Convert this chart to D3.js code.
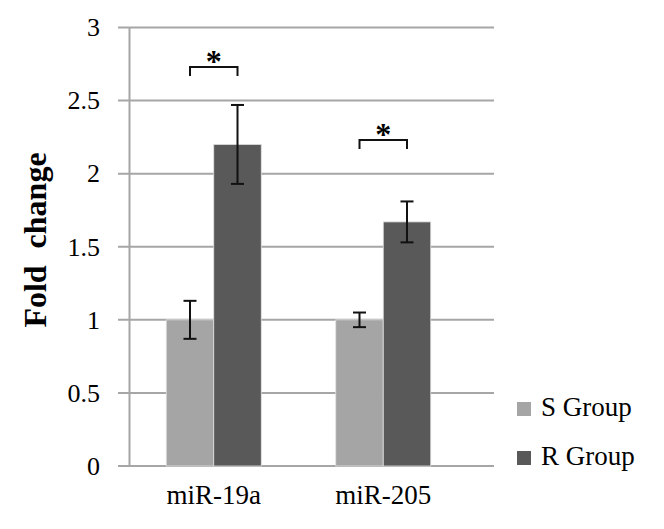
<!DOCTYPE html>
<html>
<head>
<meta charset="utf-8">
<script src="https://cdn.jsdelivr.net/npm/d3@7"></script>
<style>
  body { margin: 0; background: #fff; }
</style>
</head>
<body>
<div id="chart"></div>
<script>
var categories = ["miR-19a", "miR-205"]
var groups = ["S Group", "R Group"]
var sValues = [1, 1]
var rValues = [2.2, 1.67]
var sErrors = [0.13, 0.05]
var rErrors = [0.27, 0.14]
var bracketY = [2.73, 2.23]   // height of the significance brackets
var yTicks = [0, 0.5, 1, 1.5, 2, 2.5, 3]
var colors = ["#a5a5a5", "#595959"]

var serif = "'Liberation Serif', 'Times New Roman', serif"
var width = 664, height = 529
var svg = d3.select("#chart").append("svg")
  .attr("width", width)
  .attr("height", height)

var yScale = d3.scaleLinear().domain([0, 3]).range([466, 27.5])
var xScale = d3.scaleBand().domain(categories).range([129, 468]).paddingInner(0).paddingOuter(0)
var inner = d3.scaleBand().domain(groups).range([0, 95])
var barOffset = (xScale.bandwidth() - 95) / 2

// gridlines
svg.append("g").selectAll("line")
  .data(yTicks)
  .enter().append("line")
    .attr("x1", 118).attr("x2", 494)
    .attr("y1", d => yScale(d)).attr("y2", d => yScale(d))
    .attr("stroke", "#a6a6a6")
    .attr("stroke-width", 2)

// y axis
var yAxis = svg.append("g")
  .attr("transform", "translate(129,0)")
  .call(d3.axisLeft(yScale).tickValues(yTicks).tickSize(0).tickPadding(29).tickFormat(d3.format("")))
yAxis.attr("font-family", null)
yAxis.select(".domain").attr("stroke", "#a6a6a6").attr("stroke-width", 2)
yAxis.selectAll("text")
  .attr("font-size", 26)
  .attr("fill", "#000")

// bars
var rows = categories.map((c, i) => ({
  cat: c,
  bars: [
    { g: groups[0], v: sValues[i], e: sErrors[i] },
    { g: groups[1], v: rValues[i], e: rErrors[i] }
  ]
}))

var cats = svg.selectAll(".cat")
  .data(rows)
  .enter().append("g")
    .attr("class", "cat")
    .attr("transform", d => "translate(" + (xScale(d.cat) + barOffset) + ",0)")

cats.selectAll("rect")
  .data(d => d.bars)
  .enter().append("rect")
    .attr("x", d => inner(d.g))
    .attr("y", d => yScale(d.v))
    .attr("width", inner.bandwidth())
    .attr("height", d => yScale(0) - yScale(d.v))
    .attr("fill", (d, i) => colors[i])
    .attr("stroke", "#e0e0e0")
    .attr("stroke-width", 0.8)

// error bars
var err = cats.selectAll(".err")
  .data(d => d.bars)
  .enter().append("g")
    .attr("class", "err")
    .attr("transform", d => "translate(" + (inner(d.g) + inner.bandwidth() / 2) + ",0)")
err.append("line")
  .attr("x1", 0).attr("x2", 0)
  .attr("y1", d => yScale(d.v + d.e)).attr("y2", d => yScale(d.v - d.e))
err.append("line")
  .attr("x1", -6.5).attr("x2", 6.5)
  .attr("y1", d => yScale(d.v + d.e)).attr("y2", d => yScale(d.v + d.e))
err.append("line")
  .attr("x1", -6.5).attr("x2", 6.5)
  .attr("y1", d => yScale(d.v - d.e)).attr("y2", d => yScale(d.v - d.e))
err.selectAll("line").attr("stroke", "#111").attr("stroke-width", 2)

// significance brackets
var br = cats.append("g")
  .attr("transform", "translate(" + (inner.bandwidth() / 2) + ",0)")
br.append("path")
  .attr("d", (d, i) => {
    var y = yScale(bracketY[i])
    return "M0," + (y + 9) + "V" + y + "H" + inner.bandwidth() + "V" + (y + 9)
  })
  .attr("fill", "none")
  .attr("stroke", "#111")
  .attr("stroke-width", 2)
br.append("text")
  .attr("x", inner.bandwidth() / 2)
  .attr("y", (d, i) => yScale(bracketY[i]) + 5)
  .attr("text-anchor", "middle")
  .attr("font-size", 32)
  .attr("font-weight", "bold")
  .text("*")

// x labels
svg.selectAll(".xlab")
  .data(categories)
  .enter().append("text")
    .attr("class", "xlab")
    .attr("x", d => xScale(d) + xScale.bandwidth() / 2)
    .attr("y", 504)
    .attr("text-anchor", "middle")
    .attr("font-size", 27)
    .text(d => d)

// y title
svg.append("text")
  .attr("transform", "translate(46,240) rotate(-90)")
  .attr("text-anchor", "middle")
  .attr("font-size", 32)
  .attr("font-weight", "bold")
  .attr("word-spacing", 9)
  .text("Fold change")

// legend
var legend = svg.selectAll(".legend")
  .data(groups)
  .enter().append("g")
    .attr("class", "legend")
    .attr("transform", (d, i) => "translate(517," + (402 + i * 49) + ")")
legend.append("rect")
  .attr("width", 14).attr("height", 14)
  .attr("fill", (d, i) => colors[i])
legend.append("text")
  .attr("x", 24).attr("y", 14)
  .attr("font-size", 27)
  .text(d => d)

svg.selectAll("text").style("font-family", serif)
</script>
</body>
</html>
